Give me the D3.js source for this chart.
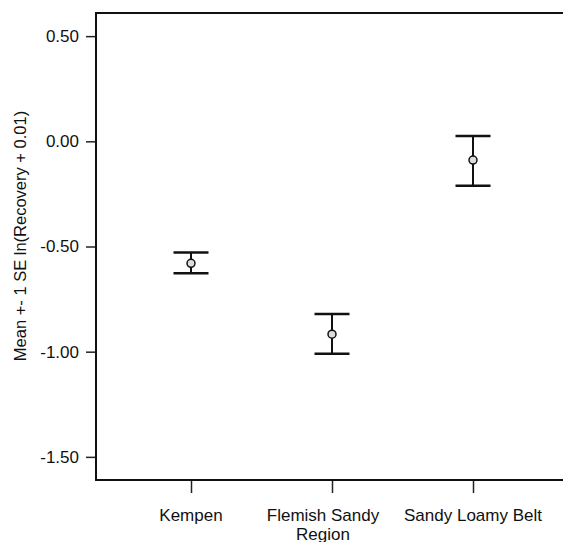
<!DOCTYPE html>
<html>
<head>
<meta charset="utf-8">
<script src="https://cdn.jsdelivr.net/npm/d3@7/dist/d3.min.js"></script>
<style>
  html, body { margin: 0; padding: 0; background: #fff; }
  svg { display: block; font-family: "Liberation Sans", Arial, sans-serif; }
</style>
</head>
<body>
<svg id="chart" width="563" height="542"></svg>
<script>
// ---- data ----
const categories = ["Kempen", "Flemish Sandy Region", "Sandy Loamy Belt"];
const categoryLines = [["Kempen"], ["Flemish Sandy", "Region"], ["Sandy Loamy Belt"]];
const means = [-0.580, -0.917, -0.089];
const upper = [-0.528, -0.821, 0.025];
const lower = [-0.627, -1.010, -0.211];
const yTicks = [0.5, 0.0, -0.5, -1.0, -1.5];
const yTitle = "Mean +- 1 SE ln(Recovery + 0.01)";

(function () {
// ---- layout ----
const plotL = 96, plotR = 563, plotT = 13, plotB = 480;
const svg = d3.select("#chart");

const y = d3.scaleLinear().domain([-1.61, 0.61]).range([plotB, plotT]);
const x = d3.scalePoint().domain(categories).range([191, 473]);

// frame: left, top, bottom (no right border)
svg.append("path")
  .attr("d", `M${plotR},${plotT}H${plotL}V${plotB}H${plotR}`)
  .attr("fill", "none").attr("stroke", "#111").attr("stroke-width", 2);

// y axis ticks + labels (ASCII hyphen minus)
const fmt = v => v.toFixed(2);
const yAxis = d3.axisLeft(y).tickValues(yTicks).tickFormat(fmt)
  .tickSize(9).tickPadding(7);
const gy = svg.append("g").attr("transform", `translate(${plotL - 1},0)`).call(yAxis);
gy.select(".domain").remove();
gy.selectAll(".tick line").attr("stroke", "#222").attr("stroke-width", 1.5);
gy.selectAll(".tick text").attr("font-size", 17).attr("fill", "#111")
  .attr("font-family", "Liberation Sans, Arial, sans-serif");

// x axis ticks
const xAxis = d3.axisBottom(x).tickSize(12).tickFormat("");
const gx = svg.append("g").attr("transform", `translate(0,${plotB + 1})`).call(xAxis);
gx.select(".domain").remove();
gx.selectAll(".tick line").attr("stroke", "#222").attr("stroke-width", 1.5);

// x labels (wrapped; wrapped labels nudged left as in the reference)
categories.forEach((c, i) => {
  const lines = categoryLines[i];
  const shift = lines.length > 1 ? -9 : 0;
  const t = svg.append("text")
    .attr("text-anchor", "middle")
    .attr("font-size", 17).attr("fill", "#111")
    .attr("x", x(c) + shift).attr("y", 521);
  lines.forEach((ln, j) => {
    t.append("tspan").attr("x", x(c) + shift).attr("dy", j === 0 ? 0 : 18.5).text(ln);
  });
});

// y title
svg.append("text")
  .attr("transform", `translate(26,236) rotate(-90)`)
  .attr("text-anchor", "middle")
  .attr("font-size", 16.5).attr("fill", "#111")
  .text(yTitle);

// error bars
const capW = 35;
const g = svg.append("g");
categories.forEach((c, i) => {
  const cx = x(c);
  g.append("line").attr("x1", cx).attr("x2", cx)
    .attr("y1", y(upper[i])).attr("y2", y(lower[i]))
    .attr("stroke", "#111").attr("stroke-width", 2);
  [upper[i], lower[i]].forEach(v => {
    g.append("line").attr("x1", cx - capW / 2).attr("x2", cx + capW / 2)
      .attr("y1", y(v)).attr("y2", y(v))
      .attr("stroke", "#111").attr("stroke-width", 2.5);
  });
  g.append("circle").attr("cx", cx).attr("cy", y(means[i])).attr("r", 4)
    .attr("fill", "#dcdcdc").attr("stroke", "#111").attr("stroke-width", 1.5);
});
})();
</script>
</body>
</html>
